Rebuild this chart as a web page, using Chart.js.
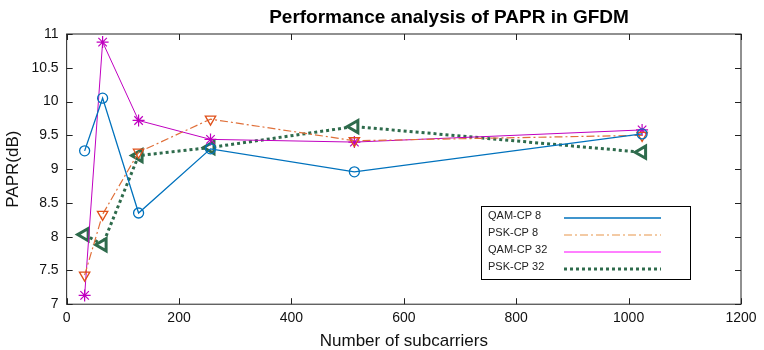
<!DOCTYPE html>
<html>
<head>
<meta charset="utf-8">
<script src="https://cdn.jsdelivr.net/npm/chart.js@4.4.1/dist/chart.umd.min.js"></script>
<style>
  html, body { margin: 0; padding: 0; background: #fff; }
  #wrap { width: 764px; height: 350px; }
</style>
</head>
<body>
<div id="wrap"><canvas id="paprChart" width="764" height="350"></canvas></div>
<script>
// subcarriers on x axis
const subcarriers = [32, 64, 128, 256, 512, 1024];

// PAPR values (dB)
const qamCp8  = [9.27, 10.05, 8.35, 9.30, 8.96, 9.52];
const pskCp8  = [7.43, 8.33, 9.25, 9.74, 9.42, 9.50];
const qamCp32 = [7.13, 10.88, 9.72, 9.44, 9.40, 9.58];
const pskCp32 = [8.03, 7.88, 9.20, 9.32, 9.63, 9.25];

const seriesNames = ['QAM-CP 8', 'PSK-CP 8', 'QAM-CP 32', 'PSK-CP 32'];
const xTicks = [0, 200, 400, 600, 800, 1000, 1200];
const yTicks = [7, 7.5, 8, 8.5, 9, 9.5, 10, 10.5, 11];
const titleText = 'Performance analysis of PAPR in GFDM';

const font = 'Liberation Sans, Arial, sans-serif';

function toPoints(vals) {
    return vals.map((v, i) => ({ x: subcarriers[i], y: v }));
}

// title sits right of centre in the original, so draw it by hand
const topTitle = {
    id: 'topTitle',
    afterDraw(chart) {
        const ctx = chart.ctx;
        ctx.save();
        ctx.font = 'bold 19px ' + font;
        ctx.fillStyle = '#000';
        ctx.textAlign = 'center';
        ctx.textBaseline = 'middle';
        ctx.fillText(titleText, 449, 18);
        ctx.restore();
    }
};

// legend drawn as boxed text + line sample, like the matlab figure
const boxLegend = {
    id: 'boxLegend',
    afterDraw(chart) {
        const ctx = chart.ctx;
        const x0 = 481, y0 = 206, w = 209, h = 73;
        ctx.save();
        ctx.fillStyle = '#fff';
        ctx.fillRect(x0, y0, w, h);
        ctx.strokeStyle = '#000';
        ctx.lineWidth = 1;
        ctx.strokeRect(x0 + 0.5, y0 + 0.5, w, h);
        ctx.font = '11px ' + font;
        ctx.textBaseline = 'middle';
        chart.data.datasets.forEach((ds, i) => {
            const yy = y0 + 10 + i * 17;
            ctx.fillStyle = '#222';
            ctx.fillText(ds.label, x0 + 7, yy);
            ctx.strokeStyle = ds.legendColor || ds.borderColor;
            ctx.lineWidth = ds.borderWidth;
            ctx.setLineDash(ds.borderDash || []);
            ctx.beginPath();
            ctx.moveTo(x0 + 83, yy + 2);
            ctx.lineTo(x0 + 180, yy + 2);
            ctx.stroke();
        });
        ctx.restore();
    }
};

// box around plot with inward ticks on all four sides
const frameTicks = {
    id: 'frameTicks',
    afterDatasetsDraw(chart) {
        const { ctx, chartArea: a, scales } = chart;
        ctx.save();
        ctx.strokeStyle = '#222';
        ctx.lineWidth = 1;
        ctx.setLineDash([]);
        ctx.strokeRect(a.left, a.top, a.right - a.left, a.bottom - a.top);
        ctx.beginPath();
        xTicks.forEach(t => {
            const px = Math.round(scales.x.getPixelForValue(t)) + 0.5;
            ctx.moveTo(px, a.bottom); ctx.lineTo(px, a.bottom - 6);
            ctx.moveTo(px, a.top); ctx.lineTo(px, a.top + 6);
        });
        yTicks.forEach(t => {
            const py = Math.round(scales.y.getPixelForValue(t)) + 0.5;
            ctx.moveTo(a.left, py); ctx.lineTo(a.left + 6, py);
            ctx.moveTo(a.right, py); ctx.lineTo(a.right - 6, py);
        });
        ctx.stroke();
        ctx.restore();
    }
};

const ctx = document.getElementById('paprChart').getContext('2d');
new Chart(ctx, {
    type: 'line',
    data: {
        datasets: [{
            label: seriesNames[0],
            data: toPoints(qamCp8),
            borderColor: '#0072BD',
            borderWidth: 1.3,
            pointStyle: 'circle',
            pointRadius: 5,
            pointBorderWidth: 1.3,
            pointBackgroundColor: 'rgba(255,255,255,0)',
            pointBorderColor: '#0072BD'
        }, {
            label: seriesNames[1],
            data: toPoints(pskCp8),
            borderColor: '#E0703A',
            legendColor: '#E8964A',
            borderWidth: 1.2,
            borderDash: [8, 3, 2, 3],
            pointStyle: 'triangle',
            rotation: 180,
            pointRadius: 6,
            pointBorderWidth: 1.3,
            pointBackgroundColor: 'rgba(255,255,255,0)',
            pointBorderColor: '#E0501A'
        }, {
            label: seriesNames[2],
            data: toPoints(qamCp32),
            borderColor: '#C000C0',
            legendColor: '#FF00FF',
            borderWidth: 1,
            pointStyle: 'star',
            pointRadius: 6,
            pointBorderWidth: 1.2,
            pointBorderColor: '#C000C0'
        }, {
            label: seriesNames[3],
            data: toPoints(pskCp32),
            borderColor: '#2E6B4C',
            borderWidth: 3,
            borderDash: [3, 3],
            pointStyle: 'triangle',
            rotation: 270,
            pointRadius: 7,
            pointBorderWidth: 3,
            pointBackgroundColor: '#ffffff',
            pointBorderColor: '#2E6B4C'
        }]
    },
    options: {
        responsive: false,
        animation: false,
        layout: { padding: { left: 3, right: 23, top: 34, bottom: 0 } },
        plugins: {
            legend: { display: false },
            tooltip: { enabled: false },
            title: { display: false }
        },
        scales: {
            x: {
                type: 'linear',
                min: 0, max: 1200,
                afterBuildTicks: s => { s.ticks = xTicks.map(v => ({ value: v })); },
                grid: { display: false, drawTicks: false },
                border: { display: false },
                ticks: {
                    color: '#111', padding: 6, font: { family: font, size: 14 },
                    callback: v => String(v)
                },
                title: {
                    display: true, text: 'Number of subcarriers', color: '#111',
                    font: { family: font, size: 17, lineHeight: 1 }, padding: { top: 0, bottom: 0 }
                }
            },
            y: {
                min: 7, max: 11,
                afterBuildTicks: s => { s.ticks = yTicks.map(v => ({ value: v })); },
                grid: { display: false, drawTicks: false },
                border: { display: false },
                ticks: {
                    color: '#111', padding: 8, font: { family: font, size: 14 },
                    callback: v => String(v)
                },
                title: {
                    display: true, text: 'PAPR(dB)', color: '#111',
                    font: { family: font, size: 17 }, padding: { top: 0, bottom: 0 }
                }
            }
        }
    },
    plugins: [frameTicks, boxLegend, topTitle]
});
</script>
</body>
</html>
